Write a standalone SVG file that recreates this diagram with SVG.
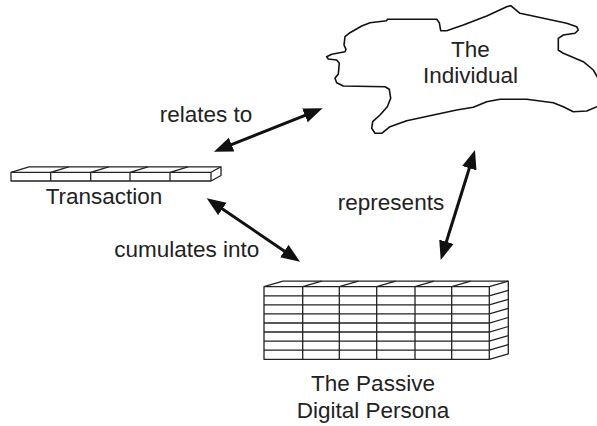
<svg xmlns="http://www.w3.org/2000/svg" width="597" height="426" viewBox="0 0 597 426">
<style>
text{font-family:"Liberation Sans",Arial,sans-serif;font-size:22.5px;fill:#222;text-anchor:middle}
.box{fill:#fff;stroke:#222;stroke-width:1.3;stroke-linejoin:round}
.ln{fill:none;stroke:#222;stroke-width:1.3}
.cloud{fill:#fff;stroke:#111;stroke-width:1.6;stroke-linejoin:round}
.arr{stroke:#111;stroke-width:3;fill:none;marker-start:url(#ah);marker-end:url(#ah)}
</style>
<defs>
<marker id="ah" markerUnits="userSpaceOnUse" markerWidth="20" markerHeight="16" refX="7" refY="7.5" orient="auto-start-reverse" viewBox="0 0 20 15">
<path d="M0,0 L19,7.5 L0,15 z" fill="#111"/>
</marker>
</defs>
<rect width="597" height="426" fill="#fff"/>
<g id="individual">
<path class="cloud" d="M510.7,5.7 L520,13.3 L566.7,23.3 L576.7,26.7 L578.3,30 L575,33.3 L563.3,35 L558.3,38.3 L558.3,50 L563.3,53.3 L583.3,61.7 L593.3,70 L598,78 L600,106 L597,106.7 L586.7,111 L573.3,111.7 L563.3,106.7 L553.3,102.7 L526.7,99.3 L500,99.3 L486.7,101.7 L473.3,107.3 L456.7,110 L433.3,115 L406.7,120.7 L390,126.7 L381.7,133.3 L375,133.3 L371.7,128.3 L372.7,121.7 L380,115 L387.3,106.7 L390.7,98.3 L389.3,89.3 L385,86.7 L343.3,86 L336.7,82.7 L335,78.3 L338.3,74 L339.3,63.3 L336.7,60 L328.3,59 L326.7,56.7 L331.7,54.3 L345,51.7 L346,49.3 L344,45 L345,36.7 L350,32.7 L361.7,26 L370,22.7 L386.7,20.7 L387.3,19.3 L436.7,19.3 L439.3,22.7 L440.7,30.7 L446.7,30.7 L463.3,25 L486.7,16 L506.7,6.7 Z"/>
<text x="470.5" y="56.7">The</text>
<text x="470.5" y="83.3">Individual</text>
</g>
<g id="transaction">
<path class="box" d="M11,172.3 L29,166.8 L221,166.8 L221,175.5 L211,181 L11,181 Z"/>
<path class="ln" d="M11,172.3 H211 V181 M211,172.3 L221,166.8 M50.7,172.3 V181 M90.7,172.3 V181 M130,172.3 V181 M170,172.3 V181 M50.7,172.3 L68.7,166.8 M90.7,172.3 L108.7,166.8 M130,172.3 L148,166.8 M170,172.3 L188,166.8"/>
<text x="104" y="204.3">Transaction</text>
</g>
<g id="persona">
<path class="box" d="M264,286.7 L283,281.2 L508.3,281.2 L508.3,353.8 L489.3,359.3 L264,359.3 Z"/>
<path class="ln" d="M264,286.7 H489.3 V359.3 M489.3,286.7 L508.3,281.2
M302.7,286.7 V359.3 M339.3,286.7 V359.3 M376.7,286.7 V359.3 M415,286.7 V359.3 M451.7,286.7 V359.3
M302.7,286.7 L321.7,281.2 M339.3,286.7 L358.3,281.2 M376.7,286.7 L395.7,281.2 M415,286.7 L434,281.2 M451.7,286.7 L470.7,281.2
M264,295.8 H489.3 L508.3,290.3 M264,304.8 H489.3 L508.3,299.3 M264,313.9 H489.3 L508.3,308.4 M264,323 H489.3 L508.3,317.5 M264,332 H489.3 L508.3,326.5 M264,341.1 H489.3 L508.3,335.6 M264,350.2 H489.3 L508.3,344.7"/>
<text x="373" y="390.7">The Passive</text>
<text x="373" y="418.3">Digital Persona</text>
</g>
<g id="connectors">
<line class="arr" x1="225.1" y1="147.2" x2="311.4" y2="112.8"/>
<line class="arr" x1="216.6" y1="205" x2="290.1" y2="255"/>
<line class="arr" x1="471.4" y1="161.5" x2="444.3" y2="248.5"/>
<text x="206" y="121.7">relates to</text>
<text x="186.7" y="256.7">cumulates into</text>
<text x="391" y="209.5">represents</text>
</g>
</svg>
